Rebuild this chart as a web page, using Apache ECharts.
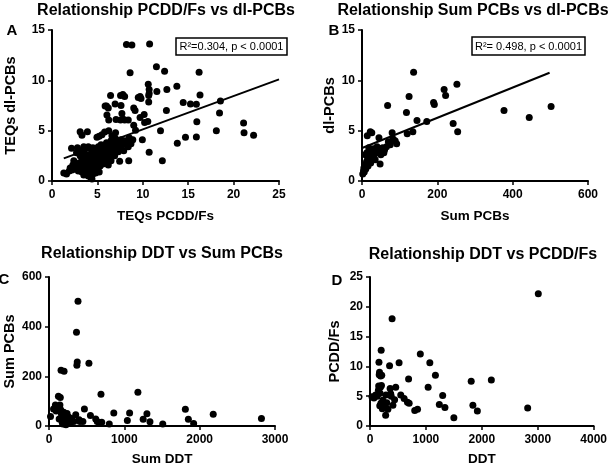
<!DOCTYPE html>
<html>
<head>
<meta charset="utf-8">
<title>Relationships PCDD/Fs, PCBs, DDT</title>
<script src="https://cdn.jsdelivr.net/npm/echarts@6/dist/echarts.min.js"></script>
<style>html,body{margin:0;padding:0;background:#fff;}</style>
</head>
<body>
<div id="main" style="width:610px;height:467px"></div>
<script type="text/javascript">
var FONT = 'Liberation Sans, Arial, sans-serif';

// A: TEQs PCDD/Fs (x) vs TEQs dl-PCBs (y)
var pcddVsDlA = [
    [8.2,13.55],[8.8,13.5],[10.75,13.6],[8.6,10.75],[11.5,11.35],[12.4,10.9],[10.6,9.6],[10.7,9.1],
    [10.7,8.7],[10.65,8.5],[11.55,8.9],[12.65,9.1],[13.75,9.4],[16.2,10.8],[16.3,8.55],[18.55,7.95],
    [14.45,7.8],[15.25,7.65],[15.9,7.62],[18.45,6.75],[12.6,7.0],[10.65,7.85],[15.95,5.88],[11.95,5.0],
    [18.1,5.0],[21.1,5.75],[21.15,4.8],[22.2,4.55],[15.9,4.37],[14.7,4.35],[13.8,3.75],[10.7,2.85],
    [12.15,2.0],[8.45,2.0],[7.45,1.95],[9.95,4.1],[9.7,6.3],[10.15,6.6],[9.5,8.3],[9.7,8.4],
    [9.0,7.25],[9.15,7.0],[7.55,8.5],[7.8,8.6],[8.0,8.4],[6.45,8.5],[6.0,7.45],[6.2,7.25],
    [7.6,7.5],[7.7,6.7],[7.05,6.1],[7.55,6.05],[8.0,6.05],[8.4,6.05],[6.25,6.05],[6.05,6.55],
    [6.25,5.0],[5.8,4.87],[5.2,4.45],[4.95,4.35],[9.0,5.55],[9.2,5.05],[10.2,5.8],[10.55,5.9],
    [3.1,4.9],[3.9,4.9],[3.3,4.55],[3.5,3.4],[4.05,3.25],[2.15,3.25],[6.95,7.65],[7.8,6.15],
    [5.85,7.45],[9.8,8.2],
    [1.3,0.8],[1.6,0.7],[1.9,1.0],[2.0,1.3],[2.2,1.1],[2.3,1.6],[2.5,1.2],[2.4,2.0],[2.6,1.5],
    [2.7,2.8],[2.8,3.3],[2.9,1.0],[3.0,1.8],[3.1,2.5],[3.2,1.3],[3.2,3.0],[3.3,0.9],[3.3,2.1],
    [3.4,1.6],[3.5,2.8],[3.5,0.6],[3.6,1.2],[3.6,3.3],[3.7,2.3],[3.7,1.9],[3.8,0.8],[3.8,1.5],
    [3.9,2.6],[3.9,1.1],[4.0,3.4],[4.0,2.0],[4.0,0.5],[4.1,1.7],[4.1,1.3],[4.2,2.3],[4.2,0.9],
    [4.3,0.3],[4.3,1.5],[4.4,2.8],[4.4,1.1],[4.4,0.2],[4.5,1.9],[4.5,0.7],[4.5,3.3],[4.6,2.4],
    [4.6,1.3],[4.7,1.0],[4.8,0.8],[4.8,2.1],[4.9,1.6],[4.9,3.0],[5.0,1.2],[5.0,2.6],[5.1,1.9],
    [5.1,3.4],[5.2,0.9],[5.2,2.3],[5.3,1.5],[5.4,2.8],[5.4,3.6],[5.5,2.0],[5.6,1.7],[5.6,3.1],
    [5.7,2.5],[5.8,1.9],[5.8,3.5],[5.9,2.9],[6.0,2.2],[6.0,3.8],[6.1,3.2],[6.2,2.7],[6.2,1.6],
    [6.3,3.6],[6.4,2.4],[6.4,3.0],[6.5,4.0],[6.5,2.0],[6.6,3.3],[6.7,2.8],[6.8,3.7],[6.9,2.5],
    [7.0,3.1],[7.0,4.2],[7.2,3.5],[7.3,2.9],[7.4,3.9],[7.5,3.3],[7.6,4.1],[7.8,3.6],[7.9,3.0],
    [8.0,4.0],[8.2,3.8],[8.4,3.4],[8.5,4.3],[8.7,3.7],[8.9,4.1],[6.6,4.5],[7.0,4.8],[5.5,4.6]
];
var fitA = [[1.3, 2.25], [25, 10.1]];

// B: Sum PCBs (x) vs dl-PCBs (y)
var sumPcbVsDlB = [
    [2,0.7],[4,1.0],[5,1.3],[6,0.9],[8,1.6],[9,2.6],[10,1.2],[12,1.9],[13,2.8],[14,4.5],[15,2.2],
    [16,1.5],[18,3.3],[19,2.0],[20,2.6],[22,4.9],[23,1.8],[25,3.0],[26,4.8],[28,2.3],[30,3.2],
    [32,2.6],[35,2.1],[38,3.0],[40,3.4],[42,2.8],[45,4.3],[46,3.2],[48,1.7],[50,2.6],[52,3.0],
    [55,3.3],[58,2.8],[60,3.1],[65,3.4],[68,7.5],[70,3.9],[75,3.6],[80,4.8],[82,4.2],[88,4.0],
    [92,3.7],[118,6.8],[120,4.7],[125,8.4],[135,4.9],[137,10.8],[146,6.0],[172,5.9],[190,7.8],
    [192,7.6],[218,9.1],[222,8.5],[242,5.7],[252,9.6],[254,4.9],[377,7.0],[444,6.3],[502,7.4]
];
var fitB = [[2, 3.3], [498, 10.75]];

// C: Sum DDT (x) vs Sum PCBs (y)
var ddtVsPcbC = [
    [20,38],[60,68],[85,85],[95,60],[110,78],[125,120],[135,28],[145,85],[150,115],[155,65],
    [160,225],[165,48],[175,15],[185,8],[195,55],[200,220],[205,30],[215,42],[225,5],[240,50],
    [255,20],[265,35],[280,10],[300,30],[330,18],[355,45],[365,378],[370,245],[375,258],[385,502],
    [400,25],[410,18],[450,18],[470,68],[530,253],[550,42],[620,28],[640,18],[670,10],[690,128],
    [700,15],[800,8],[860,52],[1040,22],[1070,52],[1180,136],[1250,27],[1300,49],[1340,17],
    [1510,8],[1810,67],[1850,27],[1920,10],[2180,47],[2820,30]
];

// D: DDT (x) vs PCDD/Fs (y)
var ddtVsPcddD = [
    [35,4.9],[70,4.7],[100,5.2],[130,5.0],[150,6.0],[155,6.7],[160,10.7],[165,8.6],[170,9.0],
    [175,3.4],[180,5.5],[185,6.5],[190,8.4],[195,3.8],[200,12.7],[205,6.8],[210,8.5],[220,2.9],
    [230,4.3],[250,3.3],[280,1.8],[285,5.2],[300,3.9],[320,2.8],[350,10.1],[360,6.3],[370,5.4],
    [380,5.0],[395,18.0],[410,3.5],[440,4.4],[460,6.5],[520,10.6],[550,5.2],[610,4.6],[670,4.0],
    [690,7.9],[700,3.8],[800,2.6],[850,2.8],[900,12.1],[1040,6.5],[1070,10.6],[1170,8.5],
    [1240,3.6],[1300,5.1],[1340,3.1],[1500,1.4],[1810,7.5],[1840,3.5],[1920,2.5],[2170,7.7],
    [2820,3.0],[3010,22.2]
];

function axis(grid, max, step, name, gap, nameSize, labelGap) {
    return {
        gridIndex: grid, type: 'value', min: 0, max: max, interval: step,
        name: name, nameLocation: 'middle', nameGap: gap,
        nameTextStyle: {color: '#000', fontWeight: 'bold', fontSize: nameSize, fontFamily: FONT},
        axisLine: {onZero: false, lineStyle: {color: '#000', width: 2}},
        axisTick: {length: 4, lineStyle: {color: '#000', width: 1.5}},
        axisLabel: {color: '#000', fontWeight: 'bold', fontSize: 12, fontFamily: FONT, margin: labelGap,
            formatter: function (v) { return String(v); }},
        splitLine: {show: false}
    };
}

function dots(i, data) {
    return {type: 'scatter', xAxisIndex: i, yAxisIndex: i, data: data, symbolSize: 7,
        itemStyle: {color: '#000', opacity: 1}, silent: true};
}
function fit(i, data) {
    return {type: 'line', xAxisIndex: i, yAxisIndex: i, data: data, showSymbol: false,
        lineStyle: {color: '#000', width: 2}, silent: true, z: 1};
}
function txt(x, y, s, size, weight, rot) {
    return {type: 'text', x: x, y: y, rotation: rot || 0,
        style: {text: s, fill: '#000', textAlign: 'center', textVerticalAlign: 'middle',
            font: (weight || 'bold') + ' ' + size + 'px ' + FONT}};
}
function box(x, y, w, h, s) {
    return {type: 'group', children: [
        {type: 'rect', shape: {x: x, y: y, width: w, height: h},
            style: {fill: '#fff', stroke: '#000', lineWidth: 1.5}},
        txt(x + w / 2, y + h / 2 + 0.5, s, 11, 'normal')
    ]};
}

var myChart = echarts.init(document.getElementById('main'));
var option = {
    animation: false,
    backgroundColor: '#fff',
    grid: [
        {left: 52, top: 30, width: 227, height: 151},
        {left: 362, top: 30, width: 226, height: 151},
        {left: 49, top: 277, width: 226, height: 150},
        {left: 370, top: 277, width: 226, height: 150}
    ],
    xAxis: [
        axis(0, 25, 5, 'TEQs PCDD/Fs', 28, 13.5, 8),
        axis(1, 600, 200, 'Sum PCBs', 28, 13.5, 8),
        axis(2, 3000, 1000, 'Sum DDT', 26, 13.5, 8),
        axis(3, 4000, 1000, 'DDT', 26, 13.5, 8)
    ],
    yAxis: [
        axis(0, 15, 5, 'TEQs dl-PCBs', 34, 14.5, 7),
        axis(1, 15, 5, 'dl-PCBs', 24, 14.5, 7),
        axis(2, 600, 200, 'Sum PCBs', 32, 14.5, 7),
        axis(3, 25, 5, 'PCDD/Fs', 28, 14.5, 7)
    ],
    series: [
        fit(0, fitA), dots(0, pcddVsDlA),
        fit(1, fitB), dots(1, sumPcbVsDlB),
        dots(2, ddtVsPcbC),
        dots(3, ddtVsPcddD)
    ],
    graphic: [
        txt(166, 11, 'Relationship PCDD/Fs vs dl-PCBs', 16),
        txt(473, 11, 'Relationship Sum PCBs vs dl-PCBs', 16),
        txt(162, 254, 'Relationship DDT vs Sum PCBs', 16),
        txt(483, 255, 'Relationship DDT vs PCDD/Fs', 16),
        txt(12, 31, 'A', 15),
        txt(334, 31, 'B', 15),
        txt(4, 280, 'C', 15),
        txt(337, 281, 'D', 15),
        box(176, 38, 111, 17, 'R\u00b2=0.304, p < 0.0001'),
        box(472, 37, 113, 18, 'R\u00b2= 0.498, p < 0.0001')
    ]
};
myChart.setOption(option);
</script>
</body>
</html>
